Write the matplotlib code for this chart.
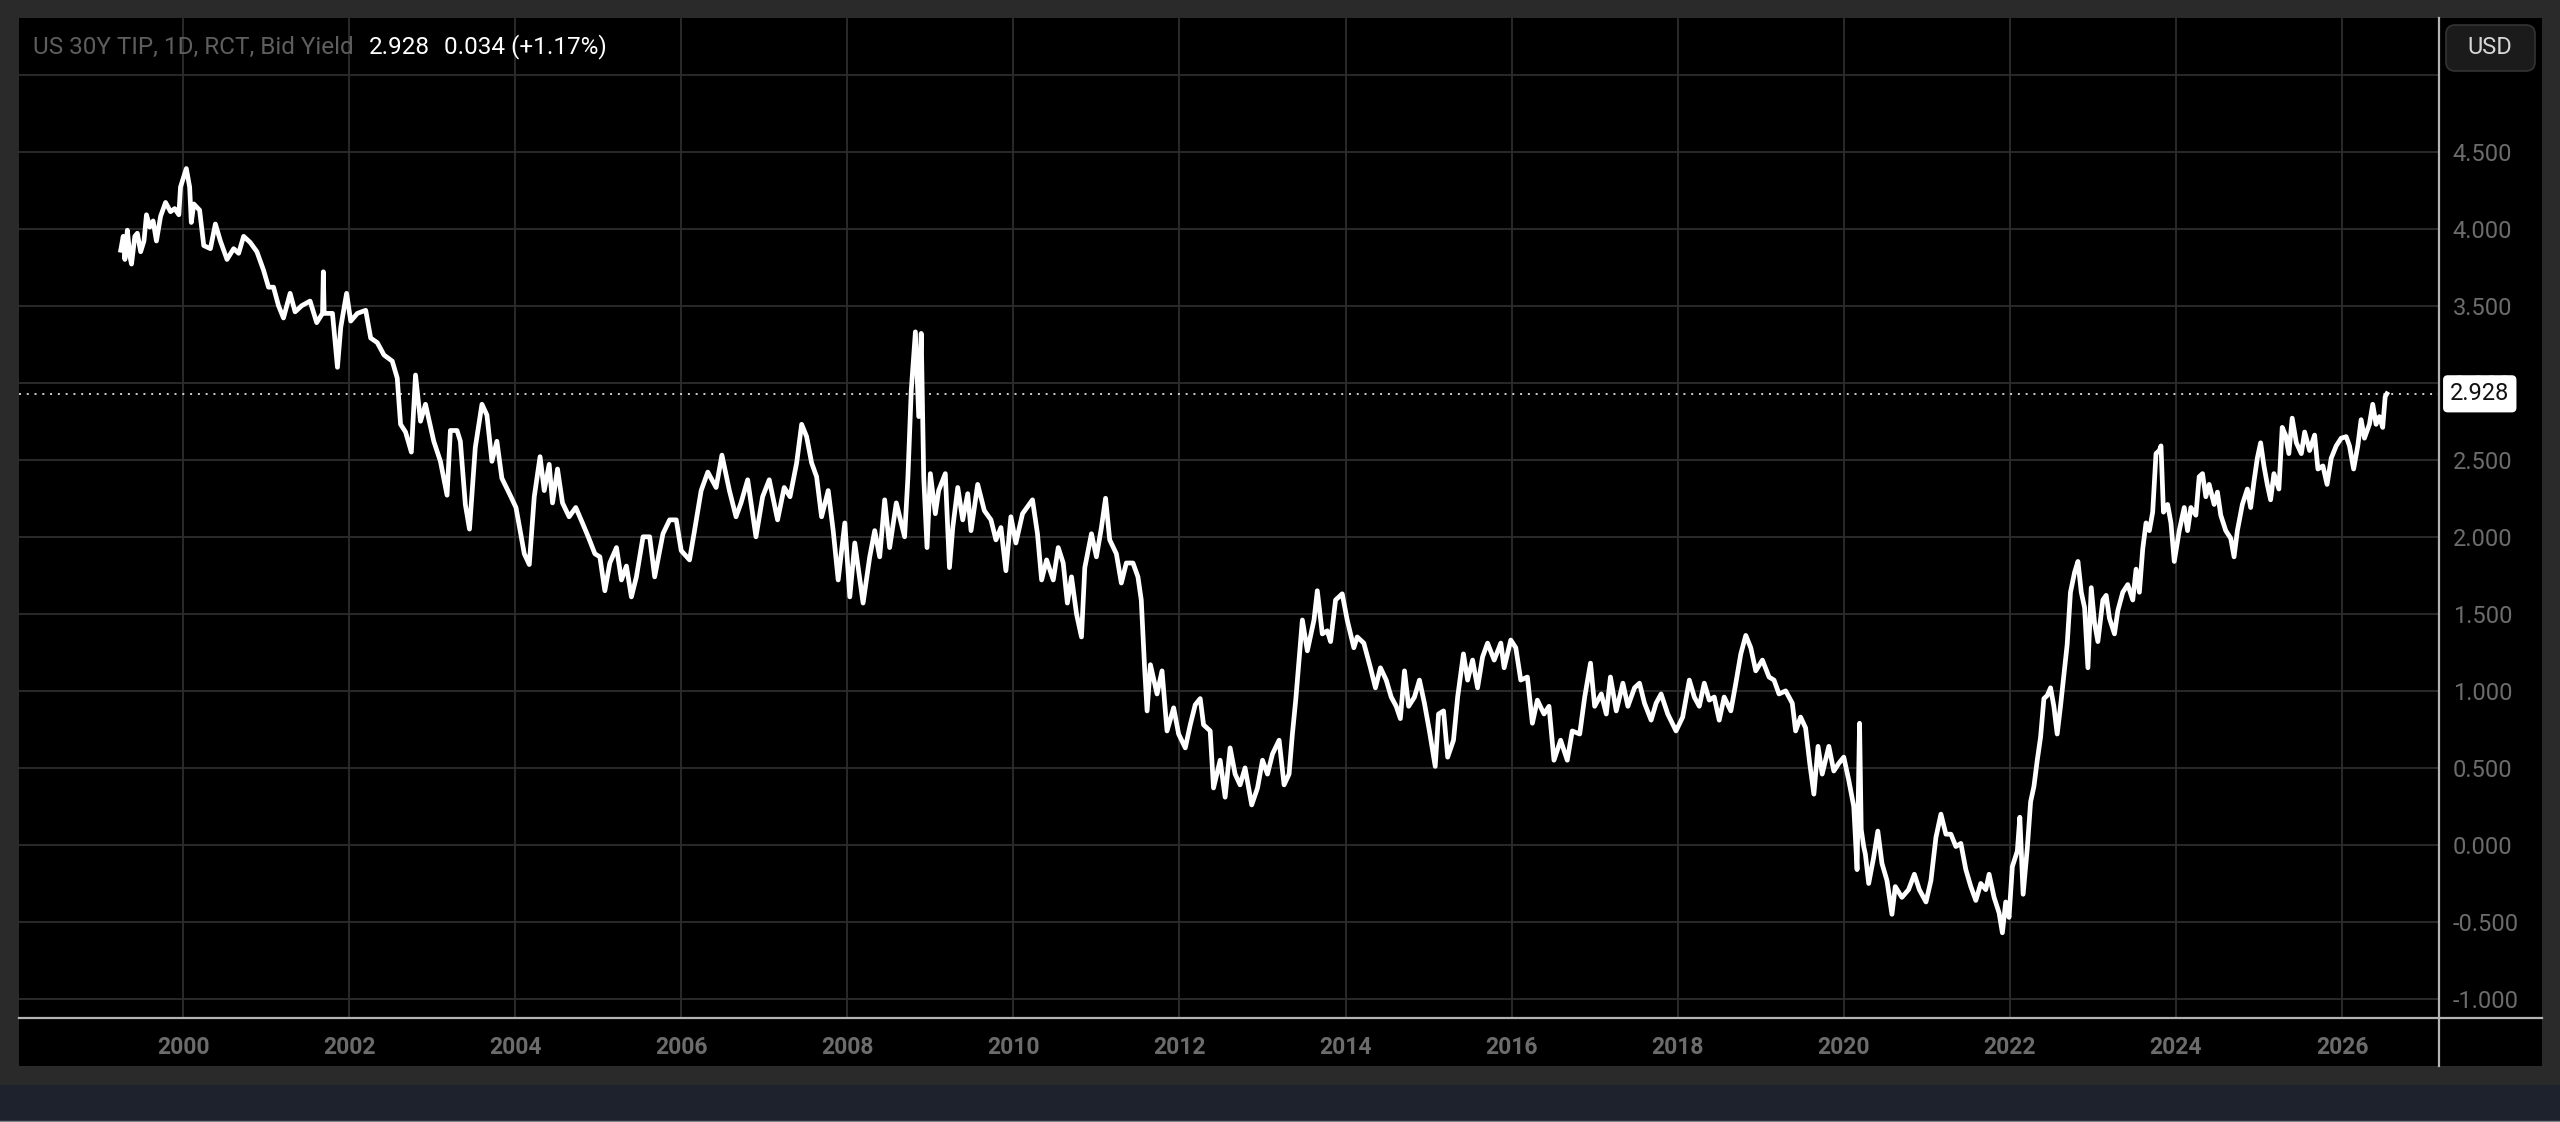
import matplotlib.pyplot as plt
import numpy as np
from matplotlib.lines import Line2D
from matplotlib.patches import Rectangle, FancyBboxPatch
from matplotlib.transforms import IdentityTransform, blended_transform_factory

plt.rcParams["font.family"] = ["Roboto", "DejaVu Sans"]

###############################################################################

BG = "#2a2a2a"
PANEL = "#000000"
NAVY = "#1e222d"
GRID = "#2d2d2d"
AXIS = "#b4b4b4"
LABEL = "#6c6c6c"
TITLE_GREY = "#5e5e5e"
WHITE = "#FFFFFF"

W, H = 2560, 1122

###############################################################################
# US 30Y TIP bid yield (fractional year, yield)

yield_1999_2003 = [
    (1999.25, 3.86), (1999.28, 3.95), (1999.30, 3.80), (1999.33, 3.99),
    (1999.36, 3.82), (1999.38, 3.77), (1999.42, 3.95), (1999.45, 3.97),
    (1999.49, 3.85), (1999.53, 3.92), (1999.56, 4.09), (1999.60, 4.01),
    (1999.64, 4.05), (1999.68, 3.92), (1999.73, 4.08), (1999.79, 4.17),
    (1999.85, 4.11), (1999.90, 4.13), (1999.95, 4.09), (1999.97, 4.27),
    (2000.04, 4.39), (2000.08, 4.27), (2000.10, 4.04), (2000.13, 4.16),
    (2000.20, 4.12), (2000.25, 3.89), (2000.33, 3.87), (2000.39, 4.03),
    (2000.45, 3.92), (2000.53, 3.80), (2000.61, 3.87), (2000.67, 3.84),
    (2000.73, 3.95), (2000.81, 3.91), (2000.89, 3.85), (2000.97, 3.73),
    (2001.03, 3.62), (2001.09, 3.62), (2001.15, 3.50), (2001.21, 3.42),
    (2001.29, 3.58), (2001.35, 3.46), (2001.43, 3.50), (2001.53, 3.53),
    (2001.61, 3.39), (2001.68, 3.45), (2001.69, 3.72), (2001.70, 3.45),
    (2001.80, 3.45), (2001.86, 3.10), (2001.90, 3.36), (2001.97, 3.58),
    (2002.02, 3.40), (2002.10, 3.45), (2002.20, 3.47), (2002.26, 3.29),
    (2002.34, 3.26), (2002.42, 3.18), (2002.52, 3.14), (2002.58, 3.03),
    (2002.62, 2.73), (2002.68, 2.68), (2002.75, 2.55), (2002.80, 3.05),
    (2002.86, 2.75), (2002.92, 2.86), (2003.02, 2.62), (2003.10, 2.49),
    (2003.18, 2.27), (2003.22, 2.69), (2003.30, 2.69), (2003.34, 2.62),
    (2003.40, 2.21), (2003.45, 2.05), (2003.52, 2.58), (2003.60, 2.86),
    (2003.66, 2.79), (2003.72, 2.49), (2003.78, 2.62), (2003.84, 2.38),
    (2003.94, 2.27),
]

yield_2004_2008 = [
    (2004.01, 2.19), (2004.11, 1.89), (2004.17, 1.82), (2004.23, 2.26),
    (2004.30, 2.52), (2004.35, 2.30), (2004.41, 2.47), (2004.45, 2.22),
    (2004.51, 2.44), (2004.57, 2.22), (2004.65, 2.13), (2004.73, 2.19),
    (2004.81, 2.09), (2004.88, 2.00), (2004.96, 1.89), (2005.02, 1.87),
    (2005.08, 1.65), (2005.14, 1.83), (2005.22, 1.93), (2005.28, 1.72),
    (2005.34, 1.81), (2005.40, 1.61), (2005.46, 1.74), (2005.54, 2.00),
    (2005.62, 2.00), (2005.68, 1.74), (2005.78, 2.02), (2005.86, 2.11),
    (2005.94, 2.11), (2006.00, 1.91), (2006.10, 1.85), (2006.16, 2.04),
    (2006.24, 2.30), (2006.32, 2.42), (2006.42, 2.32), (2006.49, 2.53),
    (2006.58, 2.30), (2006.66, 2.13), (2006.72, 2.22), (2006.80, 2.37),
    (2006.90, 2.00), (2006.98, 2.26), (2007.06, 2.37), (2007.16, 2.11),
    (2007.24, 2.32), (2007.31, 2.26), (2007.39, 2.48), (2007.45, 2.73),
    (2007.51, 2.65), (2007.57, 2.48), (2007.63, 2.39), (2007.69, 2.13),
    (2007.77, 2.30), (2007.83, 2.04), (2007.89, 1.72), (2007.97, 2.09),
    (2008.03, 1.61), (2008.09, 1.96), (2008.19, 1.57), (2008.27, 1.87),
    (2008.33, 2.04), (2008.39, 1.87), (2008.45, 2.24), (2008.51, 1.93),
    (2008.59, 2.22), (2008.69, 2.00), (2008.73, 2.39), (2008.77, 2.95),
    (2008.82, 3.33), (2008.86, 2.78), (2008.89, 3.32), (2008.92, 2.39),
    (2008.96, 1.93), (2009.00, 2.41),
]

yield_2009_2013 = [
    (2009.06, 2.15), (2009.10, 2.30), (2009.18, 2.41), (2009.23, 1.80),
    (2009.27, 2.06), (2009.33, 2.32), (2009.39, 2.11), (2009.45, 2.28),
    (2009.49, 2.04), (2009.57, 2.34), (2009.65, 2.17), (2009.73, 2.11),
    (2009.79, 1.98), (2009.85, 2.06), (2009.91, 1.78), (2009.97, 2.13),
    (2010.03, 1.96), (2010.11, 2.15), (2010.23, 2.24), (2010.29, 2.02),
    (2010.34, 1.72), (2010.40, 1.85), (2010.48, 1.72), (2010.54, 1.93),
    (2010.60, 1.83), (2010.65, 1.57), (2010.70, 1.74), (2010.76, 1.50),
    (2010.82, 1.35), (2010.86, 1.80), (2010.94, 2.02), (2011.00, 1.87),
    (2011.06, 2.06), (2011.11, 2.25), (2011.16, 1.98), (2011.24, 1.89),
    (2011.30, 1.70), (2011.36, 1.83), (2011.44, 1.83), (2011.50, 1.74),
    (2011.54, 1.59), (2011.58, 1.15), (2011.61, 0.87), (2011.65, 1.17),
    (2011.73, 0.98), (2011.79, 1.13), (2011.85, 0.74), (2011.93, 0.89),
    (2011.99, 0.72), (2012.07, 0.63), (2012.13, 0.78), (2012.19, 0.91),
    (2012.25, 0.95), (2012.29, 0.78), (2012.37, 0.74), (2012.41, 0.37),
    (2012.49, 0.55), (2012.55, 0.31), (2012.61, 0.63), (2012.67, 0.46),
    (2012.73, 0.39), (2012.79, 0.50), (2012.87, 0.26), (2012.94, 0.37),
    (2013.00, 0.55), (2013.06, 0.46), (2013.12, 0.59), (2013.20, 0.68),
    (2013.26, 0.39), (2013.32, 0.46), (2013.36, 0.72), (2013.40, 0.94),
    (2013.44, 1.20), (2013.48, 1.46), (2013.54, 1.26), (2013.62, 1.46),
    (2013.66, 1.65), (2013.72, 1.37), (2013.78, 1.39), (2013.82, 1.32),
    (2013.88, 1.59), (2013.96, 1.63), (2014.02, 1.46), (2014.10, 1.28),
]

yield_2014_2018 = [
    (2014.14, 1.35), (2014.22, 1.31), (2014.30, 1.15), (2014.36, 1.02),
    (2014.42, 1.15), (2014.49, 1.07), (2014.55, 0.96), (2014.61, 0.90),
    (2014.66, 0.82), (2014.71, 1.13), (2014.76, 0.90), (2014.83, 0.96),
    (2014.89, 1.07), (2014.95, 0.92), (2015.01, 0.74), (2015.08, 0.51),
    (2015.12, 0.85), (2015.18, 0.87), (2015.23, 0.57), (2015.30, 0.68),
    (2015.35, 0.96), (2015.42, 1.24), (2015.47, 1.07), (2015.53, 1.20),
    (2015.59, 1.02), (2015.65, 1.22), (2015.71, 1.31), (2015.79, 1.20),
    (2015.87, 1.31), (2015.91, 1.15), (2015.99, 1.33), (2016.05, 1.28),
    (2016.11, 1.07), (2016.19, 1.09), (2016.25, 0.79), (2016.31, 0.94),
    (2016.39, 0.85), (2016.45, 0.90), (2016.51, 0.55), (2016.59, 0.68),
    (2016.67, 0.55), (2016.73, 0.74), (2016.82, 0.72), (2016.88, 0.96),
    (2016.95, 1.18), (2017.00, 0.90), (2017.08, 0.98), (2017.14, 0.85),
    (2017.19, 1.09), (2017.26, 0.87), (2017.34, 1.05), (2017.40, 0.90),
    (2017.48, 1.02), (2017.54, 1.05), (2017.60, 0.92), (2017.68, 0.81),
    (2017.74, 0.92), (2017.80, 0.98), (2017.88, 0.85), (2017.98, 0.74),
    (2018.06, 0.83), (2018.14, 1.07), (2018.20, 0.96), (2018.26, 0.90),
    (2018.32, 1.05), (2018.38, 0.94), (2018.44, 0.96), (2018.50, 0.81),
    (2018.56, 0.96), (2018.64, 0.87), (2018.70, 1.05), (2018.76, 1.24),
    (2018.82, 1.36), (2018.88, 1.28), (2018.94, 1.13), (2019.02, 1.20),
    (2019.10, 1.09), (2019.16, 1.07),
]

yield_2019_2021 = [
    (2019.22, 0.98), (2019.30, 1.00), (2019.38, 0.92), (2019.42, 0.74),
    (2019.48, 0.83), (2019.54, 0.76), (2019.59, 0.53), (2019.64, 0.33),
    (2019.69, 0.64), (2019.74, 0.46), (2019.82, 0.64), (2019.88, 0.48),
    (2019.94, 0.53), (2020.00, 0.57), (2020.06, 0.42), (2020.12, 0.25),
    (2020.16, -0.16), (2020.19, 0.79), (2020.21, 0.10), (2020.24, -0.01),
    (2020.26, -0.06), (2020.30, -0.25), (2020.36, -0.08), (2020.41, 0.09),
    (2020.46, -0.12), (2020.52, -0.23), (2020.58, -0.45), (2020.62, -0.27),
    (2020.70, -0.34), (2020.78, -0.29), (2020.85, -0.19), (2020.91, -0.29),
    (2020.99, -0.37), (2021.05, -0.23), (2021.11, 0.05), (2021.17, 0.20),
    (2021.23, 0.07), (2021.29, 0.07), (2021.35, -0.01), (2021.41, 0.01),
    (2021.47, -0.16), (2021.53, -0.27), (2021.59, -0.36), (2021.65, -0.25),
    (2021.71, -0.29), (2021.75, -0.19), (2021.81, -0.34),
]

yield_2022_2026 = [
    (2021.87, -0.44), (2021.91, -0.57), (2021.95, -0.37), (2021.99, -0.47),
    (2022.03, -0.14), (2022.09, -0.04), (2022.12, 0.18), (2022.16, -0.32),
    (2022.21, -0.02), (2022.25, 0.28), (2022.29, 0.38), (2022.33, 0.55),
    (2022.37, 0.70), (2022.41, 0.95), (2022.45, 0.97), (2022.49, 1.02),
    (2022.53, 0.90), (2022.57, 0.72), (2022.61, 0.90), (2022.65, 1.10),
    (2022.69, 1.30), (2022.73, 1.64), (2022.78, 1.77), (2022.82, 1.84),
    (2022.86, 1.64), (2022.90, 1.54), (2022.94, 1.15), (2022.98, 1.67),
    (2023.02, 1.44), (2023.06, 1.32), (2023.12, 1.59), (2023.16, 1.62),
    (2023.20, 1.47), (2023.26, 1.37), (2023.30, 1.52), (2023.36, 1.64),
    (2023.42, 1.69), (2023.48, 1.59), (2023.52, 1.79), (2023.56, 1.64),
    (2023.60, 1.92), (2023.64, 2.09), (2023.68, 2.04), (2023.72, 2.16),
    (2023.76, 2.54), (2023.80, 2.56), (2023.82, 2.59), (2023.85, 2.16),
    (2023.90, 2.21), (2023.94, 2.09), (2023.98, 1.84), (2024.04, 2.04),
    (2024.10, 2.19), (2024.14, 2.04), (2024.18, 2.19), (2024.24, 2.14),
    (2024.28, 2.39), (2024.32, 2.41), (2024.36, 2.26), (2024.40, 2.34),
    (2024.46, 2.21), (2024.50, 2.29), (2024.54, 2.14), (2024.60, 2.04),
    (2024.66, 1.99), (2024.70, 1.87), (2024.74, 2.04), (2024.80, 2.21),
    (2024.86, 2.31), (2024.90, 2.19), (2024.94, 2.36), (2024.98, 2.51),
    (2025.02, 2.61), (2025.06, 2.46), (2025.10, 2.34), (2025.14, 2.24),
    (2025.18, 2.41), (2025.24, 2.31), (2025.28, 2.71), (2025.32, 2.66),
    (2025.36, 2.54), (2025.40, 2.77), (2025.45, 2.61), (2025.51, 2.54),
    (2025.55, 2.68), (2025.61, 2.56), (2025.67, 2.66), (2025.71, 2.44),
    (2025.77, 2.46), (2025.82, 2.34), (2025.87, 2.51), (2025.93, 2.59),
    (2025.99, 2.64), (2026.05, 2.65), (2026.09, 2.59), (2026.14, 2.44),
    (2026.19, 2.59), (2026.23, 2.76), (2026.27, 2.64), (2026.33, 2.73),
    (2026.37, 2.86), (2026.41, 2.73), (2026.45, 2.78), (2026.49, 2.71),
    (2026.52, 2.91), (2026.54, 2.928),
]

last_value = 2.928
change = 0.034
change_pct = 1.17
x_ticks = list(range(2000, 2027, 2))
y_ticks = [-1.0, -0.5, 0.0, 0.5, 1.0, 1.5, 2.0, 2.5, 3.0, 3.5, 4.0, 4.5, 5.0]

###############################################################################

points = (yield_1999_2003 + yield_2004_2008 + yield_2009_2013
          + yield_2014_2018 + yield_2019_2021 + yield_2022_2026)
dates = np.array([p[0] for p in points])
bid_yield = np.array([p[1] for p in points])


def px_x(x):
    return x / W


def px_y(y):
    return 1.0 - y / H


fig = plt.figure(figsize=(W / 100, H / 100), dpi=100, facecolor=BG)

# black chart panel and the navy strip under it
fig.patches.append(Rectangle((px_x(19), px_y(1066)), (2542 - 19) / W,
                             (1066 - 18) / H, transform=fig.transFigure,
                             facecolor=PANEL, edgecolor="none", zorder=-10))
fig.patches.append(Rectangle((0, 0), 1, (H - 1085) / H,
                             transform=fig.transFigure, facecolor=NAVY,
                             edgecolor="none", zorder=-10))
fig.add_artist(Line2D([0, 1], [px_y(1121), px_y(1121)], color="#7d7f86",
                      lw=1.0, transform=fig.transFigure))

ax = fig.add_axes([px_x(19), px_y(1018), (2439 - 19) / W, (1018 - 18) / H])
ax.set_zorder(1)
ax.set_facecolor(PANEL)
for s in ax.spines.values():
    s.set_visible(False)

ax.plot(dates, bid_yield, color=WHITE, lw=3.4, zorder=3)
ax.axhline(last_value, color="#d0d0d0", lw=1.4, ls=(0, (1, 3)), zorder=2)

ax.set_xlim(1998.025, 2027.168)
ax.set_ylim(-1.123, 5.367)

ax.set_xticks(x_ticks)
ax.set_xticklabels([str(t) for t in x_ticks])
ax.set_yticks(y_ticks)
ax.set_yticklabels(["" if t >= 5.0 else f"{t:.3f}" for t in y_ticks])
ax.yaxis.tick_right()
ax.tick_params(axis="x", length=0, pad=13, labelsize=16.5, labelcolor=LABEL)
ax.tick_params(axis="y", length=0, pad=10, labelsize=17, labelcolor=LABEL)
for lab in ax.get_xticklabels():
    lab.set_fontweight("bold")
ax.grid(True, color=GRID, lw=1.3, zorder=0)
ax.set_axisbelow(True)

# axis lines
fig.add_artist(Line2D([px_x(19), px_x(2542)], [px_y(1018), px_y(1018)],
                      color=AXIS, lw=1.6, transform=fig.transFigure,
                      zorder=5))
fig.add_artist(Line2D([px_x(2439), px_x(2439)], [px_y(18), px_y(1066)],
                      color=AXIS, lw=1.6, transform=fig.transFigure,
                      zorder=5))

# last value tag
trans = blended_transform_factory(ax.transAxes, ax.transData)
ax.text(1.0046, last_value, f"{last_value:.3f}", transform=trans,
        ha="left", va="center", fontsize=17, color="#111111",
        bbox=dict(boxstyle="round,pad=0.3,rounding_size=0.2",
                  fc=WHITE, ec="none"), clip_on=False, zorder=6)

# currency button
fig.add_artist(FancyBboxPatch((2446, H - 71), 89, 46,
                              boxstyle="round,pad=0,rounding_size=9",
                              transform=IdentityTransform(),
                              facecolor="#1b1b1b", edgecolor="#333333",
                              lw=1.2, zorder=5))
fig.text(px_x(2490), px_y(48), "USD", color="#d6d6d6", fontsize=17,
         ha="center", va="center", zorder=6)

# legend line
fig.text(px_x(33), px_y(47), "US 30Y TIP, 1D, RCT, Bid Yield",
         color=TITLE_GREY, fontsize=17.5, ha="left", va="center", zorder=6)
fig.text(px_x(369), px_y(47), f"{last_value:.3f}", color=WHITE,
         fontsize=17.5, ha="left", va="center", zorder=6)
fig.text(px_x(444), px_y(47), f"{change:.3f} (+{change_pct:.2f}%)",
         color=WHITE, fontsize=17.5, ha="left", va="center", zorder=6)

fig.savefig("out.png", dpi=100, facecolor=BG)
